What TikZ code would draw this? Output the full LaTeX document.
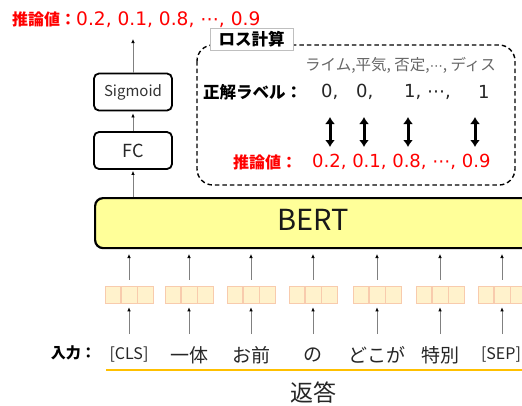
\documentclass[tikz,border=0pt]{standalone}
\usepackage{fontspec}
\setmainfont{Noto Sans CJK JP}
\newfontfamily\numfont{DejaVu Sans}
\usetikzlibrary{arrows.meta}
\definecolor{redtxt}{HTML}{FF0000}
\definecolor{bertfill}{HTML}{FFFF99}
\definecolor{embfill}{HTML}{FFF2CC}
\definecolor{embdraw}{HTML}{F8CBAD}
\definecolor{underl}{HTML}{FFC000}
\begin{document}
\begin{tikzpicture}[x=1pt,y=-1pt,
  thinarrow/.style={draw=gray, line width=0.7pt, -{Latex[length=4pt,width=3.5pt,color=black]}},
  dblarrow/.style={draw=black, line width=3pt, {Latex[length=7pt,width=10pt]}-{Latex[length=7pt,width=10pt]}},
  layerbox/.style={draw=black, line width=1.8pt, rounded corners=5pt, fill=white, minimum width=78pt, minimum height=37pt, inner sep=0pt},
  cell/.style={draw=embdraw, fill=embfill, line width=0.6pt, minimum width=15.7pt, minimum height=17pt, inner sep=0pt},
  tok/.style={font=\fontsize{19}{19}\selectfont, text=black!85, inner sep=0pt},
  numtxt/.style={font=\numfont\fontsize{18}{18}\selectfont},
  every node/.style={inner sep=0pt}]
\useasboundingbox (0,0) rectangle (522,405);
\clip (0,0) rectangle (522,405);

% top output text
\node[anchor=west, text=redtxt] (outtxt) at (12,20) {\fontsize{16}{16}\selectfont\bfseries 推論値：\mdseries\numfont\fontsize{18.6}{18.6}\selectfont 0.2, 0.1, 0.8, ⋯, 0.9};

% layers
\node[layerbox, font=\fontsize{15}{15}\selectfont, text=black!80] (sig) at (133,92) {Sigmoid};
\node[layerbox, font=\fontsize{18}{18}\selectfont, text=black!85] (fc) at (133,150.5) {FC};
\node[draw=black, line width=2.2pt, rounded corners=8pt, fill=bertfill, minimum width=450pt, minimum height=50pt, anchor=north west] (bert) at (94,197) {};
\node[font=\fontsize{29}{29}\selectfont, text=black!90] (berttxt) at (313,220) {BERT};

\coordinate (outtop) at (133,39);
\coordinate (bertfc) at (133,197);
\draw[thinarrow] (sig.north) -- (outtop);
\draw[thinarrow] (fc.north) -- ([yshift=-2pt]sig.south);
\draw[thinarrow] (bertfc) -- ([yshift=-1pt]fc.south);

% loss box
\draw[dashed, line width=1.4pt, dash pattern=on 4.5pt off 3pt, rounded corners=16pt] (197,45) rectangle (515,185);
\node[draw=black!25, fill=white, line width=0.5pt, minimum width=83pt, minimum height=22pt, font=\fontsize{16.5}{16.5}\selectfont\bfseries] (losslbl) at (251.5,39) {ロス計算};

\node[anchor=west, text=black!60, font=\fontsize{15.5}{15.5}\selectfont] (cats) at (305,65) {ライム,平気, 否定,{\numfont\fontsize{13}{13}\selectfont ⋯}, ディス};
\node[anchor=west, font=\fontsize{16.5}{16.5}\selectfont\bfseries] (gtlbl) at (203,92) {正解ラベル：};
\node[anchor=west, numtxt, text=black!85] (g1) at (321,92) {0,};
\node[anchor=west, numtxt, text=black!85] (g2) at (356,92) {0,};
\node[anchor=west, numtxt, text=black!85] (g3) at (404,92) {1, ⋯,};
\node[anchor=west, numtxt, text=black!85] (g4) at (478,92) {1};

\node[anchor=west, text=redtxt, font=\fontsize{16}{16}\selectfont\bfseries] (predlbl) at (233,162) {推論値：};
\node[anchor=west, text=redtxt, numtxt] (predvals) at (312,162) {0.2, 0.1, 0.8, ⋯, 0.9};

\foreach \x [count=\i] in {330,364,408,475} {
  \coordinate (da\i) at (\x,117);
  \coordinate (db\i) at (\x,147);
  \draw[dblarrow] (da\i) -- (db\i);
}

% tokens and embeddings
\node[anchor=east, font=\fontsize{15}{15}\selectfont\bfseries] (inlbl) at (96,353) {入力：};
\foreach \x/\t [count=\i] in {129/{\fontsize{16}{16}\selectfont[CLS]},189/一体,251/お前,313/の,377/どこが,440/特別,501/{\fontsize{16}{16}\selectfont[SEP]}} {
  \node[tok] (t\i) at (\x,355) {\t};
}
\foreach \x [count=\i] in {129,189,251,313,377,440,502} {
  \node[cell] (e\i b) at (\x,294.5) {};
  \node[cell, anchor=east] (e\i a) at (e\i b.west) {};
  \node[cell, anchor=west] (e\i c) at (e\i b.east) {};
  \coordinate (tb\i) at (\x,334);
  \coordinate (bb\i) at (\x,247);
  \draw[thinarrow] (tb\i) -- ([yshift=-4pt]e\i b.south);
  \draw[thinarrow] ([yshift=6pt]e\i b.north) -- ([yshift=-7pt]bb\i);
}
\coordinate (ulA) at (106,370);
\coordinate (ulB) at (522,370);
\draw[underl, line width=2.5pt] (ulA) -- (ulB);
\node[font=\fontsize{23}{23}\selectfont, text=black!85] (resp) at (313,393) {返答};
\end{tikzpicture}
\end{document}
